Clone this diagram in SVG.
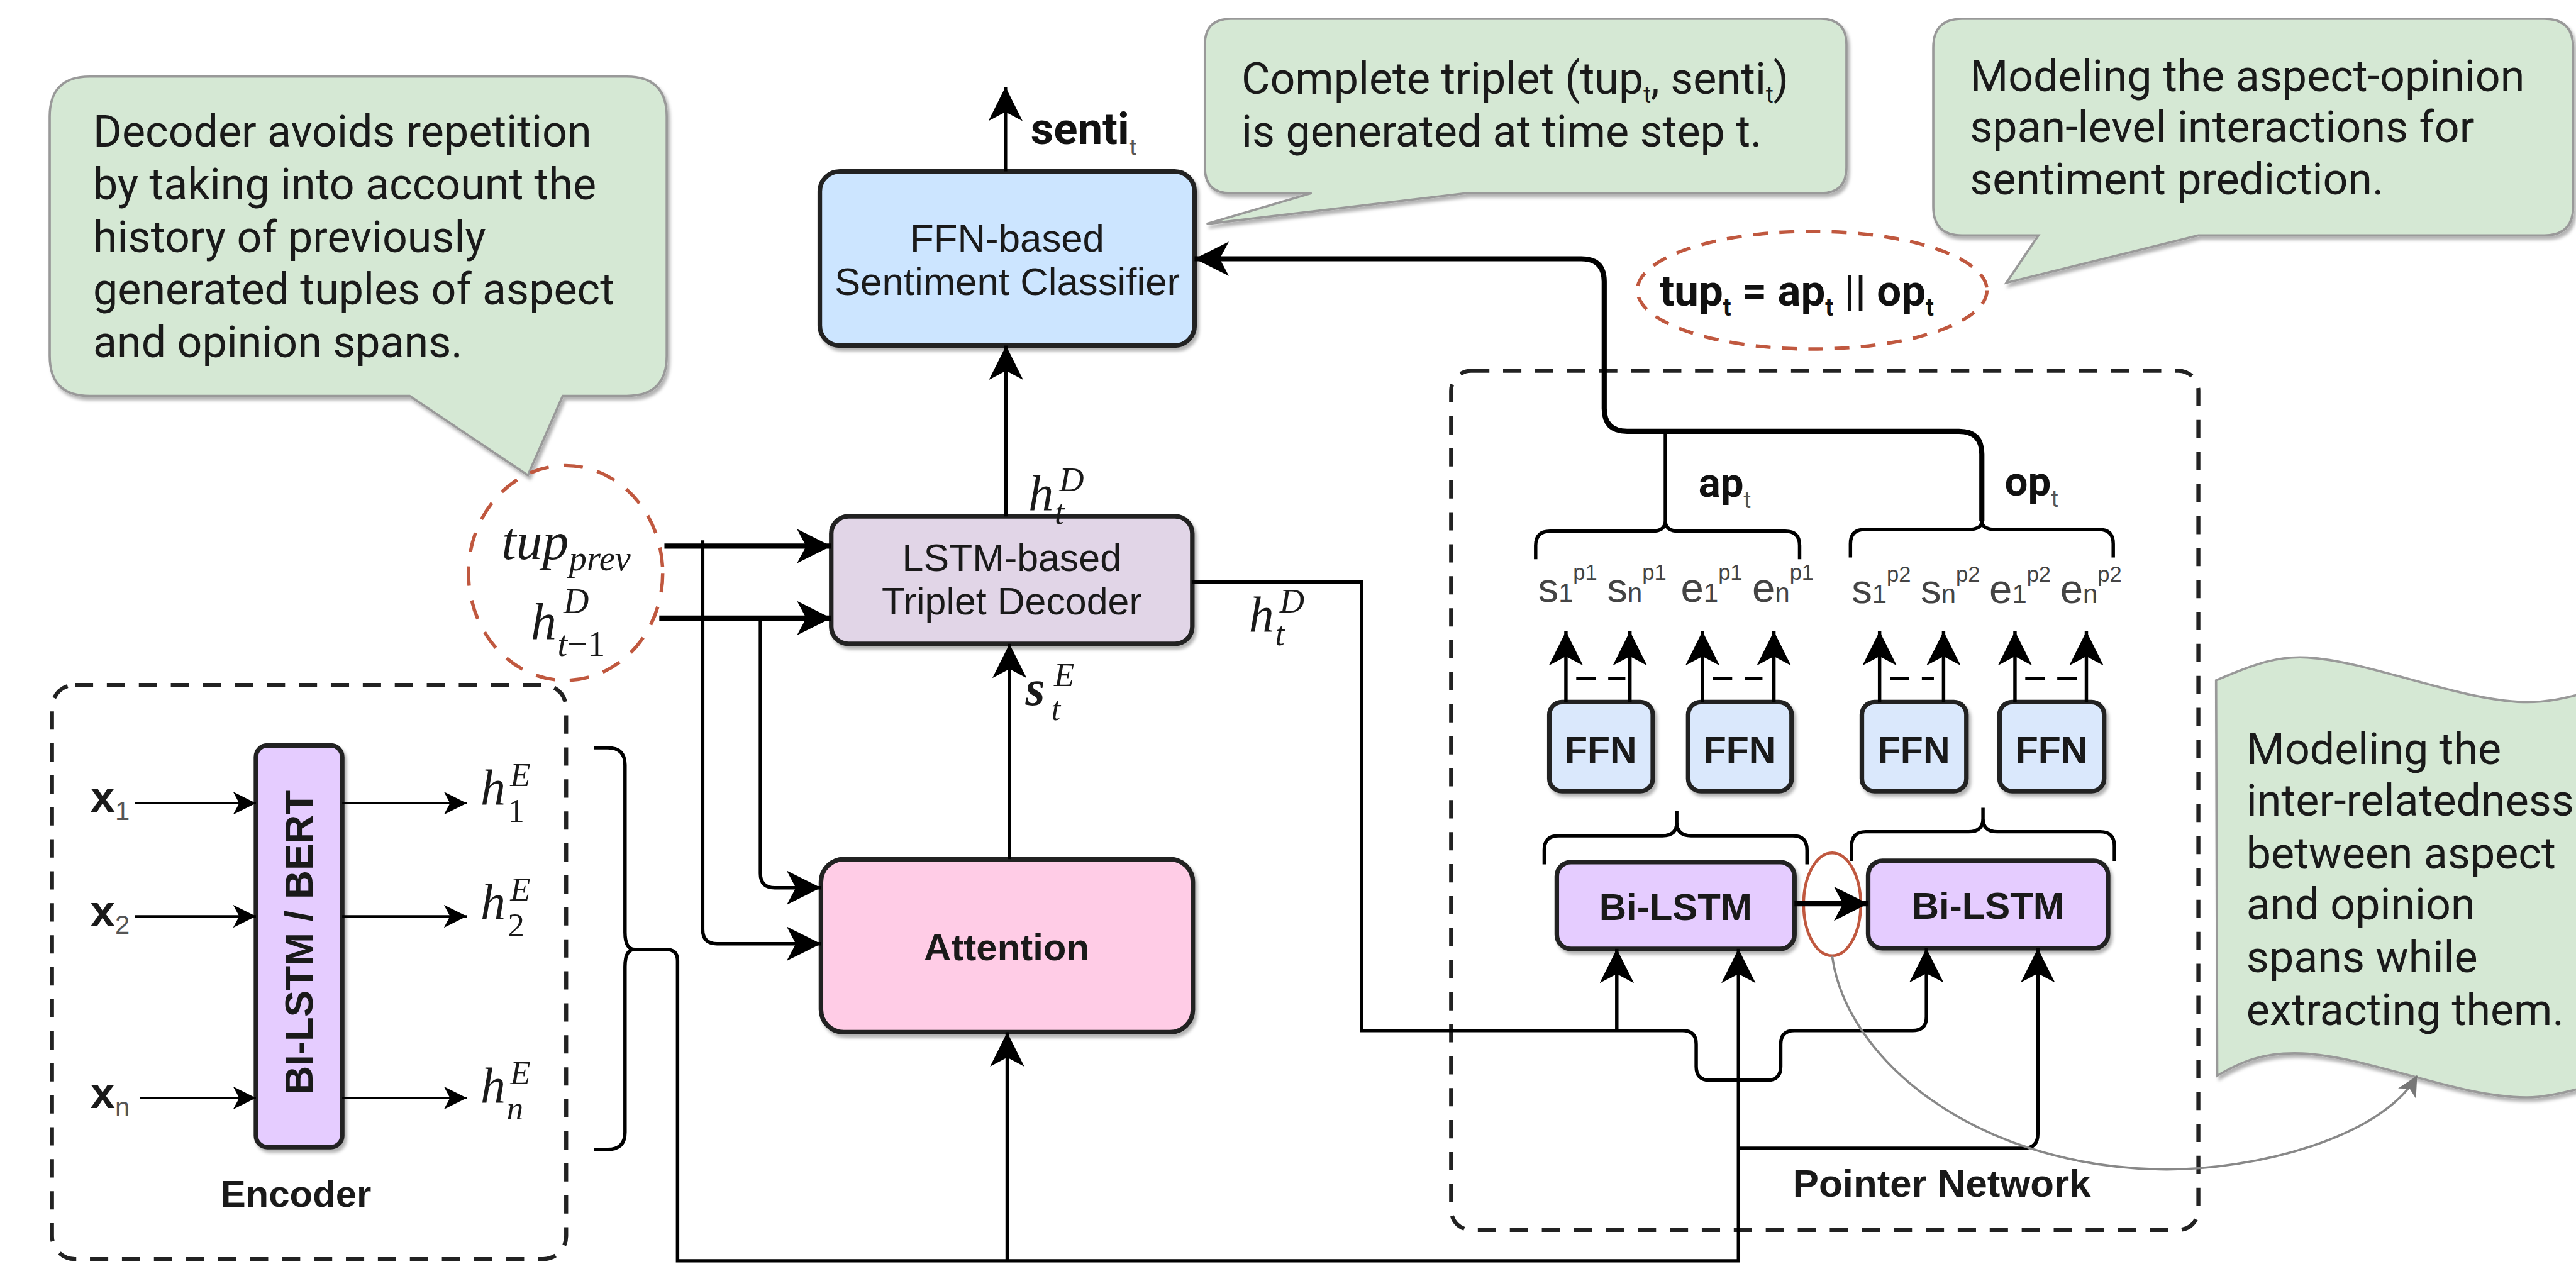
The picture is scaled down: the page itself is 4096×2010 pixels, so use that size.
<svg xmlns="http://www.w3.org/2000/svg" width="4096" height="2010" viewBox="0 0 4096 2010">
<defs>
<style>
.box{stroke:#222;stroke-width:8}
.cl{fill:#d5e8d4;stroke:#999;stroke-width:4}
.ct{font-family:Roboto,"Liberation Sans",sans-serif;font-size:77px;fill:#1a1a1a}
.lb{font-family:"Liberation Sans",Arial,sans-serif;fill:#1a1a1a}
.rb{font-family:Roboto,"Liberation Sans",sans-serif;font-weight:bold;fill:#111}
.b{font-weight:bold}
.mid{text-anchor:middle}
.m{font-family:"Liberation Serif","DejaVu Serif",serif;font-style:italic;fill:#1a1a1a}
.up{font-style:normal}
.ln{fill:none;stroke:#000;stroke-width:6}
.thk{stroke-width:9}
.thin{stroke-width:4}
.dash{fill:none;stroke:#222;stroke-width:7;stroke-dasharray:32 24}
.red{fill:none;stroke:#c0583f;stroke-width:6}
.se{font-family:"Liberation Sans",Arial,sans-serif;font-size:72px;fill:#444}
</style>
<filter id="sh" x="-10%" y="-10%" width="130%" height="130%"><feDropShadow dx="4" dy="6" stdDeviation="3" flood-color="#000" flood-opacity="0.3"/></filter>
<marker id="a" viewBox="0 0 60 60" markerWidth="60" markerHeight="60" refX="60" refY="30" orient="auto" markerUnits="userSpaceOnUse"><path d="M0,0 L60,30 L0,60 L16,30 Z" fill="#000"/></marker>
<marker id="aL" viewBox="0 0 60 60" markerWidth="62" markerHeight="60" refX="60" refY="30" orient="auto" markerUnits="userSpaceOnUse"><path d="M0,0 L60,30 L0,60 L16,30 Z" fill="#000"/></marker>
<marker id="as" viewBox="0 0 60 60" markerWidth="42" markerHeight="40" refX="60" refY="30" orient="auto" markerUnits="userSpaceOnUse"><path d="M0,0 L60,30 L0,60 L16,30 Z" fill="#000"/></marker>
<marker id="ag" viewBox="0 0 60 60" markerWidth="48" markerHeight="36" refX="60" refY="30" orient="auto" markerUnits="userSpaceOnUse"><path d="M0,0 L60,30 L0,60 L16,30 Z" fill="#777"/></marker>
</defs>
<rect width="4096" height="2010" fill="#fff"/>
<g transform="scale(0.908406)">

<!-- callouts -->
<g id="note-decoder">
<path class="cl" filter="url(#sh)" d="M157,134 L1097,134 Q1167,134 1167,204 L1167,623 Q1167,693 1097,693 L985,693 L924,832 L717,693 L157,693 Q87,693 87,623 L87,204 Q87,134 157,134 Z"/>
<text class="ct" x="163" y="257">Decoder avoids repetition</text>
<text class="ct" x="163" y="349">by taking into account the</text>
<text class="ct" x="163" y="441">history of previously</text>
<text class="ct" x="163" y="533">generated tuples of aspect</text>
<text class="ct" x="163" y="625">and opinion spans.</text>
</g>

<g id="note-triplet">
<path class="cl" filter="url(#sh)" d="M2154,33 L3187,33 Q3232,33 3232,78 L3232,293 Q3232,338 3187,338 L2568,338 L2112,392 L2296,338 L2154,338 Q2109,338 2109,293 L2109,78 Q2109,33 2154,33 Z"/>
<text class="ct" x="2173" y="164">Complete triplet (tup<tspan font-size="40" dy="15">t</tspan><tspan dy="-15">, senti</tspan><tspan font-size="40" dy="15">t</tspan><tspan dy="-15">)</tspan></text>
<text class="ct" x="2173" y="257">is generated at time step t.</text>
</g>

<g id="note-span">
<path class="cl" filter="url(#sh)" d="M3434,33 L4454,33 Q4504,33 4504,83 L4504,362 Q4504,412 4454,412 L3848,412 L3512,495 L3568,412 L3434,412 Q3384,412 3384,362 L3384,83 Q3384,33 3434,33 Z"/>
<text class="ct" x="3448" y="160">Modeling the aspect-opinion</text>
<text class="ct" x="3448" y="249">span-level interactions for</text>
<text class="ct" x="3448" y="340">sentiment prediction.</text>
</g>

<g id="note-inter">
<path class="cl" filter="url(#sh)" d="M3879,1191 C3950,1160 3990,1148 4039,1151 C4150,1158 4300,1225 4417,1229 C4460,1230 4490,1222 4530,1212 L4530,1902 C4480,1915 4450,1921 4422,1921 C4300,1921 4150,1850 4030,1844 C3960,1841 3920,1860 3881,1883 Z"/>
<text class="ct" x="3932" y="1337">Modeling the</text>
<text class="ct" x="3932" y="1428">inter-relatedness</text>
<text class="ct" x="3932" y="1520">between aspect</text>
<text class="ct" x="3932" y="1609">and opinion</text>
<text class="ct" x="3932" y="1702">spans while</text>
<text class="ct" x="3932" y="1794">extracting them.</text>
</g>

<!-- containers -->
<g id="encoder">
<rect class="dash" x="91" y="1199" width="900" height="1005" rx="40"/>
<text class="lb b mid" x="518" y="2113" font-size="66">Encoder</text>
</g>
<g id="pointer-network">
<rect class="dash" x="2540" y="649" width="1308" height="1504" rx="35"/>
<text class="lb b mid" x="3399" y="2095" font-size="68">Pointer Network</text>
</g>

<!-- nodes -->
<g id="ffn-classifier">
<rect class="box" filter="url(#sh)" x="1435" y="300" width="656" height="305" rx="35" fill="#cce5ff"/>
<text class="lb mid" x="1763" y="440" font-size="68">FFN-based</text>
<text class="lb mid" x="1763" y="516" font-size="68">Sentiment Classifier</text>
</g>

<g id="lstm-decoder">
<rect class="box" filter="url(#sh)" x="1455" y="904" width="632" height="223" rx="30" fill="#e1d5e7"/>
<text class="lb mid" x="1771" y="1000" font-size="67">LSTM-based</text>
<text class="lb mid" x="1771" y="1075" font-size="67">Triplet Decoder</text>
</g>

<g id="attention">
<rect class="box" filter="url(#sh)" x="1437" y="1504" width="651" height="303" rx="40" fill="#ffcce6"/>
<text class="lb b mid" x="1762" y="1681" font-size="66">Attention</text>
</g>

<g id="bilstm-bert">
<rect class="box" filter="url(#sh)" x="448" y="1305" width="151" height="703" rx="20" fill="#e5ccff" stroke-width="7"/>
<text class="lb b mid" transform="translate(547,1650) rotate(-90)" font-size="70">BI-LSTM / BERT</text>
</g>

<g id="inputs">
<text class="lb b" x="158" y="1421" font-size="78">x<tspan font-size="46" font-weight="normal" fill="#555" dy="14">1</tspan></text>
<text class="lb b" x="158" y="1621" font-size="78">x<tspan font-size="46" font-weight="normal" fill="#555" dy="14">2</tspan></text>
<text class="lb b" x="158" y="1940" font-size="78">x<tspan font-size="46" font-weight="normal" fill="#555" dy="14">n</tspan></text>
</g>

<g id="encoder-outputs">
<text class="m" x="841" y="1408" font-size="88">h</text><text class="m" x="893" y="1376" font-size="58">E</text><text class="m up" x="889" y="1439" font-size="58">1</text>
<text class="m" x="841" y="1608" font-size="88">h</text><text class="m" x="893" y="1576" font-size="58">E</text><text class="m up" x="889" y="1639" font-size="58">2</text>
<text class="m" x="841" y="1930" font-size="88">h</text><text class="m" x="893" y="1898" font-size="58">E</text><text class="m" x="887" y="1959" font-size="58">n</text>
</g>

<g id="tup-prev">
<ellipse class="red" cx="990" cy="1003" rx="170" ry="188" stroke-dasharray="34 26"/>
<text class="m" x="878" y="979" font-size="92">tup</text><text class="m" x="996" y="999" font-size="62">prev</text>
<text class="m" x="929" y="1118" font-size="90">h</text><text class="m" x="986" y="1073" font-size="62">D</text>
<text class="m" x="976" y="1148" font-size="62">t<tspan class="up">−1</tspan></text>
</g>

<g id="tup-t">
<ellipse class="red" cx="3172" cy="508" rx="306" ry="103" stroke-dasharray="26 20"/>
<text class="rb" x="2905" y="535" font-size="76">tup<tspan font-size="42" dy="18">t</tspan><tspan dy="-18"> = ap</tspan><tspan font-size="42" dy="18">t</tspan><tspan dy="-18"> || op</tspan><tspan font-size="42" dy="18">t</tspan></text>
</g>

<g id="labels">
<text class="rb" x="1804" y="252" font-size="78">senti<tspan font-size="40" font-weight="normal" fill="#555" dy="20">t</tspan></text>
<text class="m" x="1800" y="893" font-size="88">h</text><text class="m" x="1854" y="860" font-size="60">D</text><text class="m" x="1846" y="917" font-size="60">t</text>
<text class="m" x="2186" y="1105" font-size="88">h</text><text class="m" x="2240" y="1072" font-size="60">D</text><text class="m" x="2232" y="1130" font-size="60">t</text>
<text class="m b" x="1795" y="1234" font-size="88">s</text><text class="m" x="1845" y="1201" font-size="58">E</text><text class="m" x="1840" y="1260" font-size="58">t</text>
<text class="rb" x="2973" y="870" font-size="72">ap<tspan font-size="40" font-weight="normal" fill="#555" dy="20">t</tspan></text>
<text class="rb" x="3509" y="867" font-size="72">op<tspan font-size="40" font-weight="normal" fill="#555" dy="20">t</tspan></text>
</g>

<g id="span-labels">
<text class="se" x="2692" y="1053">s<tspan font-size="46">1</tspan><tspan font-size="38" dy="-38">p1</tspan></text>
<text class="se" x="2813" y="1053">s<tspan font-size="46">n</tspan><tspan font-size="38" dy="-38">p1</tspan></text>
<text class="se" x="2942" y="1053">e<tspan font-size="46">1</tspan><tspan font-size="38" dy="-38">p1</tspan></text>
<text class="se" x="3067" y="1053">e<tspan font-size="46">n</tspan><tspan font-size="38" dy="-38">p1</tspan></text>
<text class="se" x="3241" y="1056">s<tspan font-size="46">1</tspan><tspan font-size="38" dy="-38">p2</tspan></text>
<text class="se" x="3362" y="1056">s<tspan font-size="46">n</tspan><tspan font-size="38" dy="-38">p2</tspan></text>
<text class="se" x="3482" y="1056">e<tspan font-size="46">1</tspan><tspan font-size="38" dy="-38">p2</tspan></text>
<text class="se" x="3606" y="1056">e<tspan font-size="46">n</tspan><tspan font-size="38" dy="-38">p2</tspan></text>
</g>

<g id="ffn-1"><rect class="box" filter="url(#sh)" x="2712" y="1229" width="181" height="156" rx="22" fill="#dae8fc" stroke-width="7"/><text class="lb b mid" x="2802" y="1335" font-size="65">FFN</text></g>
<g id="ffn-2"><rect class="box" filter="url(#sh)" x="2955" y="1229" width="181" height="156" rx="22" fill="#dae8fc" stroke-width="7"/><text class="lb b mid" x="3045" y="1335" font-size="65">FFN</text></g>
<g id="ffn-3"><rect class="box" filter="url(#sh)" x="3259" y="1229" width="183" height="156" rx="22" fill="#dae8fc" stroke-width="7"/><text class="lb b mid" x="3350" y="1335" font-size="65">FFN</text></g>
<g id="ffn-4"><rect class="box" filter="url(#sh)" x="3500" y="1229" width="183" height="156" rx="22" fill="#dae8fc" stroke-width="7"/><text class="lb b mid" x="3591" y="1335" font-size="65">FFN</text></g>

<g id="bilstm-1"><rect class="box" filter="url(#sh)" x="2725" y="1509" width="416" height="152" rx="25" fill="#e5ccff" stroke-width="7"/><text class="lb b mid" x="2933" y="1610" font-size="66">Bi-LSTM</text></g>
<g id="bilstm-2"><rect class="box" filter="url(#sh)" x="3270" y="1507" width="420" height="153" rx="25" fill="#e5ccff" stroke-width="7"/><text class="lb b mid" x="3480" y="1608" font-size="66">Bi-LSTM</text></g>

<g id="interaction-mark"><ellipse cx="3207" cy="1583" rx="50" ry="90" fill="none" stroke="#c0583f" stroke-width="5"/></g>

<!-- connectors -->
<g id="connectors">
<path class="ln" d="M1760,300 L1760,152" marker-end="url(#a)"/>
<path class="ln" d="M1761,904 L1761,605" marker-end="url(#a)"/>
<path class="ln" d="M1767,1504 L1767,1127" marker-end="url(#a)"/>
<path class="ln" d="M1763,2207 L1763,1807" marker-end="url(#a)"/>
<path class="ln thk" d="M1163,956 L1455,956" marker-end="url(#aL)"/>
<path class="ln thk" d="M1154,1082 L1455,1082" marker-end="url(#aL)"/>
<path class="ln" d="M1230,946 L1230,1627 Q1230,1652 1255,1652 L1437,1652" marker-end="url(#a)"/>
<path class="ln" d="M1331,1082 L1331,1529 Q1331,1554 1356,1554 L1437,1554" marker-end="url(#a)"/>
<path class="ln" d="M1040,1309 L1064,1309 Q1094,1309 1094,1339 L1094,1632 Q1094,1662 1111,1662 Q1094,1662 1094,1692 L1094,1982 Q1094,2012 1064,2012 L1040,2012"/>
<path class="ln" d="M1111,1662 L1166,1662 Q1186,1662 1186,1682 L1186,2207 L3043,2207 L3043,1661" marker-end="url(#a)"/>
<path class="ln" d="M3043,2010 L3542,2010 Q3567,2010 3567,1985 L3567,1660" marker-end="url(#a)"/>
<path class="ln" d="M2087,1019 L2383,1019 L2383,1804 L2945,1804 Q2969,1804 2969,1828 L2969,1867 Q2969,1891 2993,1891 L3093,1891 Q3117,1891 3117,1867 L3117,1828 Q3117,1804 3141,1804 L3348,1804 Q3372,1804 3372,1780 L3372,1660" marker-end="url(#a)"/>
<path class="ln" d="M2830,1804 L2830,1661" marker-end="url(#a)"/>
<path class="ln thk" d="M3141,1582 L3270,1582" marker-end="url(#aL)"/>
<path class="ln" d="M2688,979 L2688,955 Q2688,930 2713,930 L2890,930 Q2915,930 2915,912 Q2915,930 2940,930 L3125,930 Q3150,930 3150,955 L3150,979"/>
<path class="ln" d="M3239,976 L3239,952 Q3239,927 3264,927 L3444,927 Q3469,927 3469,912 Q3469,927 3494,927 L3674,927 Q3699,927 3699,952 L3699,976"/>
<path class="ln" d="M2703,1513 L2703,1488 Q2703,1463 2728,1463 L2910,1463 Q2935,1463 2935,1440 L2935,1419 M2935,1440 Q2935,1463 2960,1463 L3138,1463 Q3163,1463 3163,1488 L3163,1513"/>
<path class="ln" d="M3241,1507 L3241,1481 Q3241,1456 3266,1456 L3446,1456 Q3471,1456 3471,1433 L3471,1414 M3471,1433 Q3471,1456 3496,1456 L3676,1456 Q3701,1456 3701,1481 L3701,1507"/>
<path class="ln thk" d="M3469,912 L3469,795 Q3469,755 3429,755 L2848,755 Q2808,755 2808,715 L2808,493 Q2808,453 2768,453 L2091,453" marker-end="url(#aL)"/>
<path class="ln" d="M2915,912 L2915,755"/>
<path class="ln" d="M2741,1229 L2741,1105" marker-end="url(#a)"/>
<path class="ln" d="M2853,1229 L2853,1105" marker-end="url(#a)"/>
<path class="ln" d="M2980,1229 L2980,1105" marker-end="url(#a)"/>
<path class="ln" d="M3105,1229 L3105,1105" marker-end="url(#a)"/>
<path class="ln" d="M3290,1229 L3290,1105" marker-end="url(#a)"/>
<path class="ln" d="M3402,1229 L3402,1105" marker-end="url(#a)"/>
<path class="ln" d="M3527,1229 L3527,1105" marker-end="url(#a)"/>
<path class="ln" d="M3652,1229 L3652,1105" marker-end="url(#a)"/>
<path class="ln" stroke-width="10" stroke-dasharray="34 22" d="M2759,1188 L2845,1188 M2998,1188 L3085,1188 M3308,1188 L3385,1188 M3545,1188 L3635,1188"/>
<path class="ln thin" d="M236,1406 L448,1406" marker-end="url(#as)"/>
<path class="ln thin" d="M236,1604 L448,1604" marker-end="url(#as)"/>
<path class="ln thin" d="M245,1922 L448,1922" marker-end="url(#as)"/>
<path class="ln thin" d="M599,1406 L817,1406" marker-end="url(#as)"/>
<path class="ln thin" d="M599,1604 L817,1604" marker-end="url(#as)"/>
<path class="ln thin" d="M599,1922 L817,1922" marker-end="url(#as)"/>
<path fill="none" stroke="#888" stroke-width="4" d="M3207,1673 C3230,1850 3450,2040 3780,2047 C3950,2050 4170,1990 4231,1883" marker-end="url(#ag)"/>
</g>
</g>
</svg>
